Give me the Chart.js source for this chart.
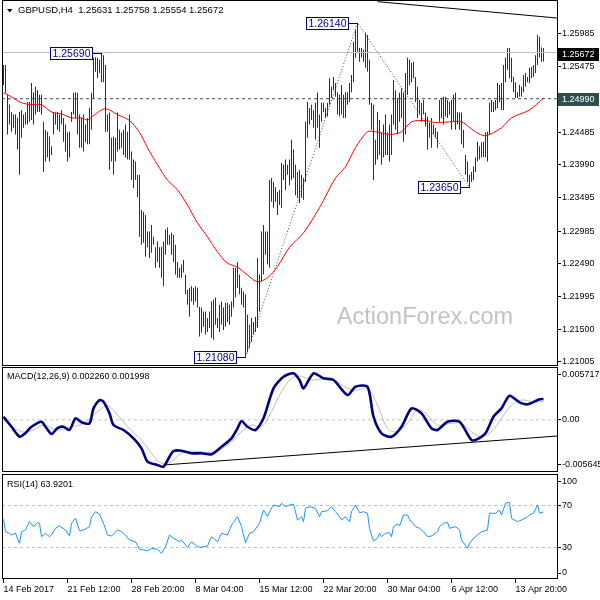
<!DOCTYPE html>
<html>
<head>
<meta charset="utf-8">
<title>GBPUSD H4</title>
<script src="https://cdn.jsdelivr.net/npm/chart.js@4.4.1/dist/chart.umd.min.js"></script>
<style>
    body { margin: 0; background: #fff; }
    #wrap { position: relative; width: 600px; height: 600px; overflow: hidden; }
    #wrap canvas { position: absolute; left: 0; }
</style>
</head>
<body>
<div id="wrap">
    <canvas id="priceChart" width="600" height="372" style="top:0"></canvas>
    <canvas id="macdChart" width="600" height="120" style="top:360px"></canvas>
    <canvas id="rsiChart" width="600" height="134" style="top:466px"></canvas>
</div>
<script>
// H4 bars, bar 0 = 14 Feb 2017 00:00
const HIGHS = [
    1.2550, 1.2550, 1.2505, 1.2490, 1.2479, 1.2475, 1.2475, 1.2470, 1.2479, 1.2482,
    1.2475, 1.2478, 1.2494, 1.2494, 1.2523, 1.2509, 1.2517, 1.2512, 1.2505, 1.2505,
    1.2464, 1.2452, 1.2449, 1.2442, 1.2427, 1.2479, 1.2478, 1.2479, 1.2475, 1.2482,
    1.2470, 1.2460, 1.2448, 1.2449, 1.2479, 1.2508, 1.2509, 1.2508, 1.2475, 1.2470,
    1.2475, 1.2460, 1.2470, 1.2485, 1.2508, 1.2561, 1.2562, 1.2561, 1.2558, 1.2569,
    1.2565, 1.2550, 1.2475, 1.2478, 1.2440, 1.2442, 1.2440, 1.2478, 1.2452, 1.2448,
    1.2452, 1.2460, 1.2449, 1.2475, 1.2419, 1.2407, 1.2404, 1.2384, 1.2384, 1.2331,
    1.2328, 1.2323, 1.2298, 1.2298, 1.2308, 1.2290, 1.2274, 1.2283, 1.2274, 1.2275,
    1.2283, 1.2301, 1.2304, 1.2293, 1.2296, 1.2293, 1.2278, 1.2252, 1.2243, 1.2248,
    1.2255, 1.2233, 1.2210, 1.2213, 1.2215, 1.2213, 1.2215, 1.2213, 1.2184, 1.2183,
    1.2177, 1.2177, 1.2167, 1.2177, 1.2192, 1.2195, 1.2198, 1.2167, 1.2187, 1.2192,
    1.2183, 1.2190, 1.2190, 1.2187, 1.2192, 1.2243, 1.2243, 1.2252, 1.2233, 1.2213,
    1.2207, 1.2203, 1.2172, 1.2157, 1.2167, 1.2161, 1.2169, 1.2258, 1.2233, 1.2298,
    1.2308, 1.2298, 1.2298, 1.2376, 1.2379, 1.2373, 1.2365, 1.2358, 1.2361, 1.2402,
    1.2399, 1.2407, 1.2399, 1.2407, 1.2437, 1.2422, 1.2399, 1.2388, 1.2391, 1.2384,
    1.2379, 1.2464, 1.2494, 1.2485, 1.2490, 1.2482, 1.2493, 1.2508, 1.2475, 1.2493,
    1.2493, 1.2485, 1.2493, 1.2530, 1.2517, 1.2532, 1.2523, 1.2509, 1.2505, 1.2520,
    1.2505, 1.2509, 1.2509, 1.2523, 1.2535, 1.2585, 1.2603, 1.2614, 1.2576, 1.2576,
    1.2573, 1.2599, 1.2596, 1.2558, 1.2493, 1.2490, 1.2437, 1.2479, 1.2467, 1.2448,
    1.2460, 1.2475, 1.2448, 1.2460, 1.2475, 1.2527, 1.2512, 1.2500, 1.2508, 1.2515,
    1.2509, 1.2538, 1.2561, 1.2558, 1.2553, 1.2555, 1.2532, 1.2517, 1.2497, 1.2493,
    1.2497, 1.2478, 1.2472, 1.2463, 1.2470, 1.2460, 1.2455, 1.2449, 1.2497, 1.2500,
    1.2502, 1.2502, 1.2497, 1.2494, 1.2497, 1.2505, 1.2508, 1.2479, 1.2478, 1.2478,
    1.2452, 1.2414, 1.2404, 1.2384, 1.2388, 1.2396, 1.2410, 1.2434, 1.2427, 1.2433,
    1.2434, 1.2448, 1.2449, 1.2493, 1.2497, 1.2494, 1.2497, 1.2523, 1.2520, 1.2523,
    1.2550, 1.2561, 1.2576, 1.2576, 1.2561, 1.2532, 1.2524, 1.2509, 1.2520, 1.2517,
    1.2535, 1.2538, 1.2532, 1.2546, 1.2547, 1.2550, 1.2565, 1.2596, 1.2593, 1.2577,
    1.25758
];
const LOWS = [
    1.2520, 1.2508, 1.2445, 1.2460, 1.2449, 1.2455, 1.2445, 1.2422, 1.2384, 1.2440,
    1.2455, 1.2460, 1.2460, 1.2464, 1.2467, 1.2460, 1.2475, 1.2479, 1.2479, 1.2475,
    1.2388, 1.2404, 1.2410, 1.2404, 1.2414, 1.2445, 1.2460, 1.2452, 1.2449, 1.2460,
    1.2434, 1.2419, 1.2404, 1.2410, 1.2464, 1.2475, 1.2470, 1.2445, 1.2425, 1.2425,
    1.2419, 1.2433, 1.2430, 1.2430, 1.2452, 1.2500, 1.2540, 1.2530, 1.2538, 1.2524,
    1.2524, 1.2449, 1.2449, 1.2391, 1.2404, 1.2384, 1.2404, 1.2419, 1.2422, 1.2425,
    1.2414, 1.2410, 1.2407, 1.2407, 1.2376, 1.2364, 1.2376, 1.2350, 1.2290, 1.2278,
    1.2281, 1.2260, 1.2274, 1.2258, 1.2266, 1.2278, 1.2243, 1.2252, 1.2243, 1.2228,
    1.2215, 1.2263, 1.2278, 1.2278, 1.2263, 1.2252, 1.2233, 1.2228, 1.2228, 1.2228,
    1.2236, 1.2203, 1.2187, 1.2169, 1.2192, 1.2187, 1.2192, 1.2183, 1.2139, 1.2145,
    1.2154, 1.2142, 1.2146, 1.2152, 1.2137, 1.2134, 1.2157, 1.2152, 1.2146, 1.2157,
    1.2149, 1.2154, 1.2161, 1.2157, 1.2169, 1.2183, 1.2198, 1.2213, 1.2203, 1.2187,
    1.2183, 1.2108, 1.2115, 1.2122, 1.2131, 1.2142, 1.2146, 1.2152, 1.2177, 1.2222,
    1.2233, 1.2263, 1.2248, 1.2243, 1.2343, 1.2334, 1.2343, 1.2323, 1.2338, 1.2334,
    1.2376, 1.2361, 1.2384, 1.2368, 1.2376, 1.2379, 1.2353, 1.2349, 1.2341, 1.2349,
    1.2346, 1.2373, 1.2440, 1.2460, 1.2467, 1.2455, 1.2437, 1.2455, 1.2425, 1.2464,
    1.2479, 1.2470, 1.2472, 1.2490, 1.2500, 1.2512, 1.2502, 1.2475, 1.2472, 1.2475,
    1.2470, 1.2470, 1.2490, 1.2494, 1.2509, 1.2524, 1.2561, 1.2570, 1.2555, 1.2562,
    1.2555, 1.2546, 1.2540, 1.2490, 1.2452, 1.2376, 1.2399, 1.2407, 1.2414, 1.2399,
    1.2410, 1.2414, 1.2414, 1.2404, 1.2414, 1.2460, 1.2452, 1.2445, 1.2464, 1.2470,
    1.2434, 1.2445, 1.2505, 1.2520, 1.2524, 1.2530, 1.2494, 1.2470, 1.2475, 1.2464,
    1.2475, 1.2457, 1.2422, 1.2440, 1.2425, 1.2445, 1.2440, 1.2425, 1.2464, 1.2470,
    1.2460, 1.2472, 1.2470, 1.2475, 1.2452, 1.2464, 1.2452, 1.2460, 1.2452, 1.2430,
    1.2425, 1.2384, 1.2373, 1.2365, 1.2373, 1.2376, 1.2388, 1.2404, 1.2407, 1.2410,
    1.2411, 1.2410, 1.2404, 1.2445, 1.2479, 1.2479, 1.2482, 1.2485, 1.2494, 1.2482,
    1.2482, 1.2524, 1.2543, 1.2530, 1.2524, 1.2509, 1.2500, 1.2500, 1.2502, 1.2502,
    1.2509, 1.2517, 1.2524, 1.2523, 1.2530, 1.2532, 1.2538, 1.2550, 1.2562, 1.2555,
    1.25554
];

// red moving average, sampled every few bars
const MA_BARS = [0, 4, 9, 14, 19, 24, 29, 34, 39, 42, 47, 51, 57, 63, 68, 72, 77, 82, 87, 92,
    97, 102, 107, 112, 117, 122, 127, 132, 137, 143, 150, 158, 166, 171, 176, 182, 186, 193, 199, 204,
    211, 216, 223, 229, 236, 241, 249, 254, 263, 270];
const MA_VALUES = [1.2508, 1.2502, 1.2493, 1.2490, 1.2490, 1.2479, 1.2476, 1.2470, 1.2470, 1.2467,
    1.2478, 1.2484, 1.2475, 1.2466, 1.2448, 1.2425, 1.2399, 1.2376, 1.2361, 1.2338,
    1.2311, 1.2290, 1.2267, 1.2250, 1.2244, 1.2232, 1.2222, 1.2228, 1.2245, 1.2274,
    1.2296, 1.2334, 1.2379, 1.2396, 1.2425, 1.2449, 1.2449, 1.2445, 1.2449, 1.2464,
    1.2466, 1.2463, 1.2464, 1.2464, 1.2449, 1.2443, 1.2455, 1.2470, 1.2482, 1.2500];

const MACD_BARS = [0, 4, 8, 11, 14, 19, 21, 24, 27, 30, 33, 36, 39, 43, 45, 48, 50, 53, 55, 60,
    65, 69, 72, 77, 80, 83, 85, 89, 94, 99, 104, 109, 114, 117, 119, 122, 126, 130, 135, 140,
    145, 148, 150, 155, 160, 165, 172, 176, 182, 185, 189, 194, 199, 204, 209, 214, 217, 222, 228, 234,
    237, 241, 245, 249, 253, 258, 262, 268, 270];
const MACD_VALUES = [0.00034, -0.00075, -0.00183, -0.00143, -0.00075, -0.00021, -0.00075, -0.00154, -0.00089, -0.00075,
    -0.00110, 0.00016, -0.00027, -0.00038, 0.00124, 0.00214, 0.00196, 0.00070, -0.00056, -0.00110,
    -0.00200, -0.00308, -0.00453, -0.00489, -0.00507, -0.00399, -0.00338, -0.00334, -0.00362, -0.00362,
    -0.00373, -0.00291, -0.00200, -0.00092, -0.00013, -0.00075, -0.00110, 0.00016, 0.00341, 0.00466,
    0.00503, 0.00431, 0.00341, 0.00503, 0.00449, 0.00431, 0.00268, 0.00358, 0.00358, 0.00034,
    -0.00146, -0.00183, -0.00075, 0.00124, 0.00070, -0.00092, -0.00110, -0.00021, -0.00021, -0.00219,
    -0.00208, -0.00146, 0.00034, 0.00124, 0.00261, 0.00189, 0.00168, 0.00222, 0.002260];

const SIGNAL_BARS = [0, 9, 15, 20, 27, 34, 40, 47, 52, 57, 62, 69, 74, 79, 84, 89, 95, 104, 112, 119,
    124, 129, 134, 139, 144, 148, 154, 159, 165, 172, 177, 182, 187, 192, 197, 202, 207, 212, 217, 224,
    229, 234, 239, 244, 249, 254, 259, 265, 270];
const SIGNAL_VALUES = [0.00000, -0.00129, -0.00110, -0.00056, -0.00110, -0.00075, -0.00038, 0.00088, 0.00153, 0.00052,
    -0.00075, -0.00219, -0.00362, -0.00471, -0.00453, -0.00362, -0.00338, -0.00352, -0.00273, -0.00129,
    -0.00056, -0.00075, 0.00088, 0.00304, 0.00449, 0.00475, 0.00431, 0.00441, 0.00431, 0.00341,
    0.00322, 0.00341, 0.00160, -0.00092, -0.00129, -0.00038, 0.00106, 0.00052, -0.00056, -0.00038,
    -0.00038, -0.00129, -0.00183, -0.00129, 0.00016, 0.00160, 0.00214, 0.00196, 0.001998];

const RSI_BARS = [0, 1, 3, 4, 6, 8, 9, 11, 13, 15, 17, 18, 19, 21, 23, 24, 26, 28, 31, 33,
    34, 36, 38, 40, 43, 44, 46, 48, 50, 52, 54, 57, 59, 61, 63, 66, 68, 72, 74, 77,
    79, 81, 83, 85, 88, 89, 92, 94, 97, 99, 102, 104, 107, 109, 112, 114, 117, 119, 121, 123,
    125, 128, 130, 132, 133, 135, 138, 139, 141, 143, 145, 147, 149, 150, 151, 153, 156, 158, 159, 162,
    164, 166, 168, 169, 171, 173, 174, 176, 178, 180, 182, 183, 184, 185, 187, 188, 189, 191, 193, 194,
    195, 197, 198, 200, 202, 203, 206, 208, 210, 212, 214, 217, 218, 220, 222, 223, 226, 228, 229, 232,
    233, 235, 237, 239, 242, 243, 246, 248, 249, 251, 253, 254, 257, 259, 262, 263, 265, 267, 268, 270];
const RSI_VALUES = [56.9, 45, 43.5, 41.9, 43.5, 34, 45, 46.7, 54.6, 49.8, 53.6, 53, 40.3, 43.5, 40.3, 41.9, 48.3, 50.5, 46.7, 41,
    53, 57.8, 46, 46.7, 49.8, 59.3, 64.1, 61.9, 53, 41.9, 41, 46.7, 45, 41.9, 37.1, 35.5, 28.3, 27, 29.2, 28.3,
    24.5, 30.8, 41.9, 38.8, 35.5, 37.1, 30.2, 35.5, 30.8, 30.2, 31.4, 40.3, 35.5, 43.5, 41.9, 51.4, 59.3, 49.8, 34.6, 43.5,
    45, 53, 65.7, 59.3, 64.1, 70.5, 68.9, 72.1, 68.9, 70.5, 71.4, 56.2, 59.3, 54.6, 67.3, 68.9, 67.3, 59.3, 64.1, 65,
    68.9, 64.1, 59.3, 56.2, 59.3, 54.6, 64.1, 70.5, 63.1, 64.1, 62.6, 48.3, 41.9, 36.2, 38.8, 43.5, 40.3, 43.5, 44.1, 40.3,
    49.8, 52.4, 50.5, 61, 61, 56.9, 49.8, 48.3, 45, 40.3, 41, 45, 49.8, 53, 54, 48.3, 49.8, 46.7, 37.1, 29.2,
    34, 38.8, 41.9, 45, 46.7, 62.6, 62.6, 65.7, 61, 72.1, 73, 57.8, 54.6, 56.2, 59.3, 61, 62.6, 70.5, 62.6, 63.9201];

const PRICE_TICKS = [1.21005, 1.21500, 1.21995, 1.22490, 1.22985, 1.23495, 1.23990, 1.24485, 1.24985, 1.25475, 1.25985];
const X_LABEL_BARS = [0, 32, 64, 96, 128, 160, 192, 224, 256];
const X_LABELS = ['14 Feb 2017', '21 Feb 12:00', '28 Feb 20:00', '8 Mar 04:00', '15 Mar 12:00',
    '22 Mar 20:00', '30 Mar 04:00', '6 Apr 12:00', '13 Apr 20:00'];

const SYMBOL = 'GBPUSD,H4';
const LAST_OHLC = [1.25631, 1.25758, 1.25554, 1.25672];
const RESISTANCE = 1.2569;
const PIVOT = 1.2499;
const SWING_BARS = [121, 177, 233];
const SWING_PRICES = [1.2108, 1.2614, 1.2365];
const LABEL_BARS = [49, 177, 233, 121];
const LABEL_PRICES = [1.2569, 1.2614, 1.2365, 1.2108];
const TOP_LINE_BARS = [187, 277.5];
const TOP_LINE_PRICES = [1.2646, 1.2621];
const MACD_LINE_BARS = [80, 277];
const MACD_LINE_VALUES = [-0.00489, -0.00175];
const RSI_LEVELS = [70, 30];

const PRICE_MIN = 1.20944, PRICE_MAX = 1.26485;
const MACD_MIN = -0.005645, MACD_MAX = 0.005717;
const MACD_LABEL_INSET = 0.00085;   // MT4 pulls the edge labels inside the window
const X_MIN = -0.75, X_MAX = 277.25;

const FONT = '"Liberation Sans", Arial, sans-serif';
Chart.defaults.font.family = FONT;
Chart.defaults.font.size = 9;
Chart.defaults.color = '#000';
Chart.defaults.animation = false;
Chart.defaults.plugins.legend.display = false;
Chart.defaults.plugins.tooltip.enabled = false;

function points(xs, ys)
{
    return xs.map((x, i) => ({ x: x, y: ys[i] }));
}

function level(v)
{
    return [{ x: X_MIN, y: v }, { x: X_MAX, y: v }];
}

function lineSet(data, color, width, dash, tension)
{
    return {
        type: 'line',
        data: data,
        borderColor: color,
        borderWidth: width,
        borderDash: dash || [],
        pointRadius: 0,
        fill: false,
        tension: tension || 0
    };
}

function hiddenX()
{
    return { type: 'linear', min: X_MIN, max: X_MAX, display: false, offset: false };
}

function rightAxis(min, max, tickValues, labelFn)
{
    return {
        type: 'linear',
        position: 'right',
        min: min,
        max: max,
        bounds: 'data',
        afterBuildTicks: s => { s.ticks = tickValues.map(v => ({ value: v })); },
        afterFit: s => { s.width = 42; s.paddingTop = 0; s.paddingBottom = 0; },
        grid: { drawOnChartArea: false, drawTicks: true, tickLength: 3, color: '#000' },
        border: { display: false },
        ticks: { padding: 1, autoSkip: false, color: '#000', callback: labelFn }
    };
}

const framePlugin = {
    id: 'frame',
    afterDraw(chart)
    {
        const { ctx, chartArea: { left, top, right, bottom } } = chart;
        ctx.save();
        ctx.strokeStyle = '#000';
        ctx.lineWidth = 1;
        ctx.strokeRect(left + 0.5, top + 0.5, right - left - 1, bottom - top - 1);
        ctx.restore();
    }
};

function drawTag(ctx, x, y, text, bg, fg)
{
    const cy = Math.round(y);
    ctx.fillStyle = bg;
    ctx.fillRect(x, cy - 6, 41, 13);
    ctx.fillStyle = fg;
    ctx.textAlign = 'left';
    ctx.textBaseline = 'middle';
    ctx.fillText(text, x + 4, cy + 0.5);
}

const priceDecor = {
    id: 'priceDecor',
    beforeDatasetsDraw(chart)
    {
        const { ctx, chartArea } = chart;
        ctx.save();
        ctx.font = '23.5px ' + FONT;
        ctx.fillStyle = '#c3c3c3';
        ctx.textAlign = 'center';
        ctx.textBaseline = 'middle';
        ctx.fillText('ActionForex.com', chartArea.right - 133, chartArea.bottom - 48);
        ctx.restore();
    },
    afterDatasetsDraw(chart)
    {
        const { ctx, scales: { x, y } } = chart;
        ctx.save();
        ctx.font = '10.5px ' + FONT;
        ctx.lineWidth = 1;
        LABEL_BARS.forEach((bar, i) =>
        {
            const px = Math.round(x.getPixelForValue(bar));
            const py = Math.round(y.getPixelForValue(LABEL_PRICES[i])) + 0.5;
            const bx = px - 52, bw = 43, bh = 13;
            ctx.strokeStyle = '#000080';
            ctx.beginPath();
            ctx.moveTo(bx + bw, py);
            ctx.lineTo(px, py);
            ctx.stroke();
            ctx.fillStyle = '#fff';
            ctx.fillRect(bx, py - 6.5, bw, bh);
            ctx.strokeRect(bx + 0.5, py - 6, bw - 1, bh - 1);
            ctx.fillStyle = '#000080';
            ctx.textAlign = 'center';
            ctx.textBaseline = 'middle';
            ctx.fillText(LABEL_PRICES[i].toFixed(5), bx + bw / 2, py + 0.5);
        });
        ctx.restore();
    },
    afterDraw(chart)
    {
        const { ctx, chartArea, scales: { y } } = chart;
        ctx.save();
        ctx.font = '9px ' + FONT;
        drawTag(ctx, chartArea.right, y.getPixelForValue(LAST_OHLC[3]), LAST_OHLC[3].toFixed(5), '#000', '#fff');
        drawTag(ctx, chartArea.right, y.getPixelForValue(PIVOT), PIVOT.toFixed(5), '#2f4f4f', '#fff');

        // header line
        ctx.fillStyle = '#000';
        ctx.beginPath();
        ctx.moveTo(7, 9);
        ctx.lineTo(12.5, 9);
        ctx.lineTo(9.75, 12.5);
        ctx.closePath();
        ctx.fill();
        ctx.font = '9.5px ' + FONT;
        ctx.textAlign = 'left';
        ctx.textBaseline = 'middle';
        ctx.fillText(SYMBOL + '  ' + LAST_OHLC.map(v => v.toFixed(5)).join(' '), 18, 10.5);
        ctx.restore();
    }
};

function titlePlugin(id, textFn, dy)
{
    return {
        id: id,
        afterDraw(chart)
        {
            const { ctx, chartArea } = chart;
            ctx.save();
            ctx.font = '9px ' + FONT;
            ctx.fillStyle = '#000';
            ctx.textAlign = 'left';
            ctx.textBaseline = 'middle';
            ctx.fillText(textFn(), chartArea.left + 5, chartArea.top + dy);
            ctx.restore();
        }
    };
}

function baseOptions(padding, xAxis, yAxis)
{
    return {
        responsive: false,
        devicePixelRatio: 1,
        events: [],
        layout: { padding: padding },
        scales: { x: xAxis, y: yAxis }
    };
}

// ---- price window ----
const bars = {
    type: 'bar',
    data: HIGHS.map((h, i) => ({ x: i, y: [LOWS[i], h] })),
    backgroundColor: '#0f3a57',
    borderWidth: 0,
    barThickness: 1,
    inflateAmount: 0,
    grouped: false
};

new Chart(document.getElementById('priceChart'), {
    type: 'line',
    data: {
        datasets: [
            lineSet(points(MA_BARS, MA_VALUES), '#ff0000', 1, null, 0.3),
            lineSet(points(SWING_BARS, SWING_PRICES), '#2f4f4f', 1, [1, 2]),
            lineSet(level(RESISTANCE), '#c0c0c0', 1),
            lineSet(level(PIVOT), '#2f4f4f', 1, [3, 3]),
            lineSet(points(TOP_LINE_BARS, TOP_LINE_PRICES), '#000', 1),
            bars
        ]
    },
    options: baseOptions({ left: 2, top: 0, right: 0, bottom: 6 }, hiddenX(),
        rightAxis(PRICE_MIN, PRICE_MAX, PRICE_TICKS, v => v.toFixed(5))),
    plugins: [priceDecor, framePlugin]
});

// ---- MACD window ----
const MACD_TICKS = [MACD_MAX - MACD_LABEL_INSET, 0, MACD_MIN + MACD_LABEL_INSET];
const MACD_TICK_TEXT = [MACD_MAX.toFixed(6), '0.00', MACD_MIN.toFixed(6)];

new Chart(document.getElementById('macdChart'), {
    type: 'line',
    data: {
        datasets: [
            lineSet(points(MACD_BARS, MACD_VALUES), '#000080', 2.6, null, 0.25),
            lineSet(points(SIGNAL_BARS, SIGNAL_VALUES), '#bdbdbd', 1, null, 0.35),
            lineSet(level(0), '#c0c0c0', 1, [3, 3]),
            lineSet(points(MACD_LINE_BARS, MACD_LINE_VALUES), '#000', 1)
        ]
    },
    options: baseOptions({ left: 2, top: 7, right: 0, bottom: 8 }, hiddenX(),
        rightAxis(MACD_MIN, MACD_MAX, MACD_TICKS, (v, i) => MACD_TICK_TEXT[i])),
    plugins: [framePlugin, titlePlugin('macdTitle', () =>
        'MACD(12,26,9) ' + MACD_VALUES[MACD_VALUES.length - 1].toFixed(6) + ' ' +
        SIGNAL_VALUES[SIGNAL_VALUES.length - 1].toFixed(6), 10)]
});

// ---- RSI window ----
const RSI_TICKS = [92.4, 70, 30, 5.7];
const RSI_TICK_TEXT = ['100', '70', '30', '0'];

new Chart(document.getElementById('rsiChart'), {
    type: 'line',
    data: {
        datasets: [
            lineSet(points(RSI_BARS, RSI_VALUES), '#1e90ff', 1),
            lineSet(level(RSI_LEVELS[0]), '#c0c0c0', 1, [3, 3]),
            lineSet(level(RSI_LEVELS[1]), '#c0c0c0', 1, [3, 3])
        ]
    },
    options: baseOptions({ left: 2, top: 8, right: 0, bottom: 0 },
        {
            type: 'linear',
            min: X_MIN,
            max: X_MAX,
            offset: false,
            position: 'bottom',
            afterBuildTicks: s => { s.ticks = X_LABEL_BARS.map(v => ({ value: v })); },
            afterFit: s => { s.height = 21; s.paddingLeft = 0; s.paddingRight = 0; },
            grid: { drawOnChartArea: false, drawTicks: true, tickLength: 4, color: '#000' },
            border: { display: false },
            ticks: { align: 'start', padding: 1, autoSkip: false, maxRotation: 0, color: '#000',
                callback: (v, i) => X_LABELS[i] }
        },
        rightAxis(0, 100, RSI_TICKS, (v, i) => RSI_TICK_TEXT[i])),
    plugins: [framePlugin, titlePlugin('rsiTitle', () =>
        'RSI(14) ' + RSI_VALUES[RSI_VALUES.length - 1].toFixed(4), 10.5)]
});
</script>
</body>
</html>
